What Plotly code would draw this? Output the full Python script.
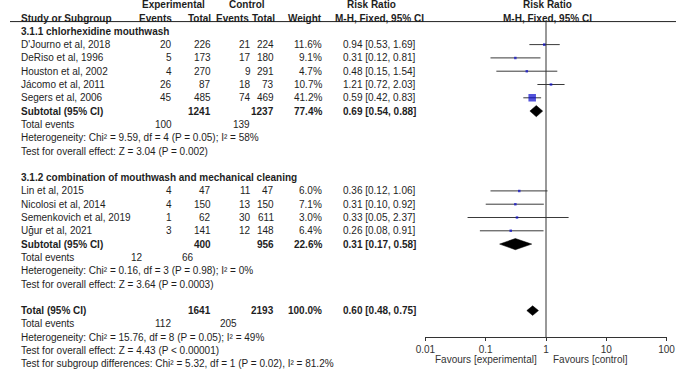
import plotly.graph_objects as go

# ---------------- data ----------------
studies_g1 = ["D'Journo et al, 2018", "DeRiso et al, 1996", "Houston et al, 2002",
              "Jácomo et al, 2011", "Segers et al, 2006"]
exp_events_g1 = [20, 5, 4, 26, 45]
exp_total_g1 = [226, 173, 270, 87, 485]
ctrl_events_g1 = [21, 17, 9, 18, 74]
ctrl_total_g1 = [224, 180, 291, 73, 469]
weight_g1 = [11.6, 9.1, 4.7, 10.7, 41.2]
rr_g1 = [0.94, 0.31, 0.48, 1.21, 0.59]
lo_g1 = [0.53, 0.12, 0.15, 0.72, 0.42]
hi_g1 = [1.69, 0.81, 1.54, 2.03, 0.83]

studies_g2 = ["Lin et al, 2015", "Nicolosi et al, 2014", "Semenkovich et al, 2019",
              "Uğur et al, 2021"]
exp_events_g2 = [4, 4, 1, 3]
exp_total_g2 = [47, 150, 62, 141]
ctrl_events_g2 = [11, 13, 30, 12]
ctrl_total_g2 = [47, 150, 611, 148]
weight_g2 = [6.0, 7.1, 3.0, 6.4]
rr_g2 = [0.36, 0.31, 0.33, 0.26]
lo_g2 = [0.12, 0.10, 0.05, 0.08]
hi_g2 = [1.06, 0.92, 2.37, 0.91]

group_titles = ["3.1.1 chlorhexidine mouthwash",
                "3.1.2 combination of mouthwash and mechanical cleaning"]

pooled_labels = ["Subtotal (95% CI)", "Subtotal (95% CI)", "Total (95% CI)"]
pooled_exp_total = [1241, 400, 1641]
pooled_ctrl_total = [1237, 956, 2193]
pooled_weight = [77.4, 22.6, 100.0]
pooled_rr = [0.69, 0.31, 0.60]
pooled_lo = [0.54, 0.17, 0.48]
pooled_hi = [0.88, 0.58, 0.75]

total_events_exp = [100, 12, 112]
total_events_ctrl = [139, 66, 205]

heterogeneity = ["Heterogeneity: Chi² = 9.59, df = 4 (P = 0.05); I² = 58%",
                 "Heterogeneity: Chi² = 0.16, df = 3 (P = 0.98); I² = 0%",
                 "Heterogeneity: Chi² = 15.76, df = 8 (P = 0.05); I² = 49%"]
overall_effect = ["Test for overall effect: Z = 3.04 (P = 0.002)",
                  "Test for overall effect: Z = 3.64 (P = 0.0003)",
                  "Test for overall effect: Z = 4.43 (P &lt; 0.00001)"]
subgroup_diff = "Test for subgroup differences: Chi² = 5.32, df = 1 (P = 0.02), I² = 81.2%"

axis_ticks = [0.01, 0.1, 1, 10, 100]
axis_tick_labels = ["0.01", "0.1", "1", "10", "100"]
favours = ["Favours [experimental]", "Favours [control]"]

# ---------------- layout constants ----------------
W, H = 685, 372
ROW0, ROWH = 4.7, 13.3          # pixel centre of row 0, row height
AXIS_ROW = 25
TEXT = "#1e1e1e"
FONT = "Arial, 'Liberation Sans', sans-serif"
FS = 10
COL_NAME = 10
COL_EE, COL_ET, COL_CE, COL_CT, COL_W, COL_RR = 168, 208, 249, 273, 322, 419

annotations = []


def txt(x, row, s, anchor="left", bold=False, color=TEXT, size=FS):
    annotations.append(dict(
        x=x, y=row, xref="x2", yref="y2", showarrow=False,
        text=f"<b>{s}</b>" if bold else s,
        xanchor=anchor, yanchor="middle", borderpad=0,
        font=dict(size=size, color=color, family=FONT)))


# header
txt(168, 0, "Experimental", "center", True)
txt(243.5, 0, "Control", "center", True)
txt(371.5, 0, "Risk Ratio", "center", True)
txt(552.5, 0, "Risk Ratio", "center", True)
txt(COL_NAME, 1, "Study or Subgroup", "left", True)
txt(COL_EE, 1, "Events", "right", True)
txt(COL_ET, 1, "Total", "right", True)
txt(COL_CE - 2, 1, "Events", "right", True)
txt(COL_CT + 1, 1, "Total", "right", True)
txt(COL_W, 1, "Weight", "right", True)
txt(380, 1, "M-H, Fixed, 95% CI", "center", True)
txt(553, 1, "M-H, Fixed, 95% CI", "center", True)

groups = [
    (studies_g1, exp_events_g1, exp_total_g1, ctrl_events_g1, ctrl_total_g1,
     weight_g1, rr_g1, lo_g1, hi_g1, 2),
    (studies_g2, exp_events_g2, exp_total_g2, ctrl_events_g2, ctrl_total_g2,
     weight_g2, rr_g2, lo_g2, hi_g2, 13),
]

sq_x, sq_y, sq_s = [], [], []
ci_x, ci_y = [], []
pooled_rows = []
tot_ev_pos = [(168, 248), (138, 190), (167, 235)]

for gi, (names, ee, et, ce, ct, w, rr, lo, hi, start) in enumerate(groups):
    txt(COL_NAME, start, group_titles[gi], "left", True)
    for i, n in enumerate(names):
        r = start + 1 + i
        txt(COL_NAME, r, n)
        txt(COL_EE, r, str(ee[i]), "right")
        txt(COL_ET, r, str(et[i]), "right")
        txt(COL_CE, r, str(ce[i]), "right")
        txt(COL_CT, r, str(ct[i]), "right")
        txt(COL_W, r, f"{w[i]:.1f}%", "right")
        txt(COL_RR, r, f"{rr[i]:.2f} [{lo[i]:.2f}, {hi[i]:.2f}]", "right")
        sq_x.append(rr[i]); sq_y.append(r)
        sq_s.append(max(2.5, 0.9 + 0.16 * w[i]))
        ci_x += [lo[i], hi[i], None]; ci_y += [r, r, None]
    r = start + 1 + len(names)
    pooled_rows.append(r)
    txt(COL_NAME, r, pooled_labels[gi], "left", True)
    txt(COL_ET, r, str(pooled_exp_total[gi]), "right", True)
    txt(COL_CT, r, str(pooled_ctrl_total[gi]), "right", True)
    txt(COL_W, r, f"{pooled_weight[gi]:.1f}%", "right", True)
    txt(COL_RR, r, f"{pooled_rr[gi]:.2f} [{pooled_lo[gi]:.2f}, {pooled_hi[gi]:.2f}]", "right", True)
    txt(COL_NAME, r + 1, "Total events")
    txt(tot_ev_pos[gi][0], r + 1, str(total_events_exp[gi]), "right")
    txt(tot_ev_pos[gi][1], r + 1, str(total_events_ctrl[gi]), "right")
    txt(COL_NAME, r + 2, heterogeneity[gi])
    txt(COL_NAME, r + 3, overall_effect[gi])

# overall
r = 23
pooled_rows.append(r)
txt(COL_NAME, r, pooled_labels[2], "left", True)
txt(COL_ET, r, str(pooled_exp_total[2]), "right", True)
txt(COL_CT, r, str(pooled_ctrl_total[2]), "right", True)
txt(COL_W, r, f"{pooled_weight[2]:.1f}%", "right", True)
txt(COL_RR, r, f"{pooled_rr[2]:.2f} [{pooled_lo[2]:.2f}, {pooled_hi[2]:.2f}]", "right", True)
txt(COL_NAME, r + 1, "Total events")
txt(tot_ev_pos[2][0], r + 1, str(total_events_exp[2]), "right")
txt(tot_ev_pos[2][1], r + 1, str(total_events_ctrl[2]), "right")
txt(COL_NAME, r + 2, heterogeneity[2])
txt(COL_NAME, r + 3, overall_effect[2])
txt(COL_NAME, r + 4, subgroup_diff)

# axis captions
txt(543, 26.7, favours[0], "right", False, "#333")
txt(557, 26.7, favours[1], "left", False, "#333")

fig = go.Figure()

# CI lines
fig.add_trace(go.Scatter(x=ci_x, y=ci_y, mode="lines", xaxis="x", yaxis="y",
                         line=dict(color="#3a3a3a", width=1), hoverinfo="skip",
                         showlegend=False))
# study squares
fig.add_trace(go.Scatter(x=sq_x, y=sq_y, mode="markers", xaxis="x", yaxis="y",
                         marker=dict(symbol="square", size=sq_s, color="#0a0acc",
                                     line=dict(width=0)),
                         showlegend=False))
# diamonds
half_h = [0.42, 0.42, 0.36]
for k, r in enumerate(pooled_rows):
    fig.add_trace(go.Scatter(
        x=[pooled_lo[k], pooled_rr[k], pooled_hi[k], pooled_rr[k], pooled_lo[k]],
        y=[r, r - half_h[k], r, r + half_h[k], r],
        mode="lines", fill="toself", fillcolor="black",
        line=dict(color="black", width=0.5), xaxis="x", yaxis="y",
        showlegend=False, hoverinfo="skip"))

# invisible trace to register the table subplot
fig.add_trace(go.Scatter(x=[0], y=[0], mode="markers", xaxis="x2", yaxis="y2",
                         marker=dict(opacity=0), showlegend=False, hoverinfo="skip"))

y_bottom_px = ROW0 + ROWH * AXIS_ROW
ydom0 = (H - y_bottom_px) / H
top_row = -ROW0 / ROWH
bottom_row_full = (H - ROW0) / ROWH

shapes = [
    dict(type="line", xref="x2", yref="y2", x0=0, x1=W, y0=1.27, y1=1.27,
         line=dict(color="#222", width=1)),
    dict(type="line", xref="x", yref="y", x0=1, x1=1, y0=1.27, y1=AXIS_ROW,
         line=dict(color="#333", width=1)),
]

fig.update_layout(
    width=W, height=H, margin=dict(l=0, r=0, t=0, b=0),
    paper_bgcolor="white", plot_bgcolor="rgba(0,0,0,0)",
    font=dict(family=FONT, size=FS, color=TEXT),
    annotations=annotations, shapes=shapes,
    xaxis=dict(type="log", range=[-2, 2], domain=[427.3 / W, 675.3 / W],
               anchor="y", showline=True, linecolor="#333", linewidth=1,
               ticks="outside", ticklen=3, tickcolor="#333",
               tickvals=axis_ticks, ticktext=axis_tick_labels,
               tickfont=dict(size=FS, color="#333", family=FONT),
               showgrid=False, zeroline=False, fixedrange=True),
    xaxis3=dict(type="log", range=[-2, 2], overlaying="x", anchor="y",
                ticks="inside", ticklen=3, tickcolor="#333", tickvals=axis_ticks,
                showticklabels=False, showline=False, showgrid=False,
                zeroline=False),
    yaxis=dict(domain=[ydom0, 1], range=[AXIS_ROW, top_row], visible=False,
               fixedrange=True),
    xaxis2=dict(range=[0, W], domain=[0, 1], anchor="y2", visible=False),
    yaxis2=dict(domain=[0, 1], range=[bottom_row_full, top_row], anchor="x2",
                visible=False),
)

fig.write_html("out.html", config={"displayModeBar": False},
               post_script="document.body.style.margin='0';document.body.style.overflow='hidden';")
